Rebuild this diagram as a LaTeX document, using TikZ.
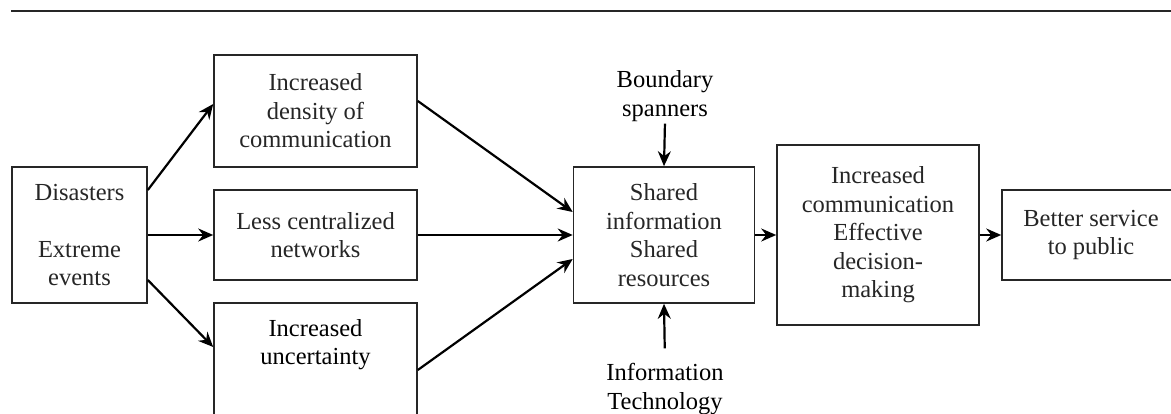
\documentclass[tikz,border=0pt]{standalone}
\usepackage{fontspec}
\setmainfont{Liberation Serif}
\usetikzlibrary{arrows.meta}
\begin{document}
\begin{tikzpicture}[x=1pt,y=-1pt,
  every node/.style={font=\fontsize{24.5}{28.5}\selectfont, inner sep=0pt, align=center},
  box/.style={draw, line width=1.6pt, color=black!85},
  arr/.style={line width=2.2pt, -{Stealth[length=15pt,width=13pt,inset=5pt]}}]
\useasboundingbox (0,0) rectangle (1171,414);
\clip (0,0) rectangle (1171,414);
\coordinate (tl) at (11,11);
\coordinate (tr) at (1171,11);
\draw[line width=2.4pt, black!85] (tl) -- (tr);

\node[box, minimum width=135pt, minimum height=136pt] (dis) at (79.5,235) {Disasters\\\mbox{}\\Extreme\\events};
\node[box, minimum width=203pt, minimum height=112pt] (den) at (315.5,111) {Increased\\density of\\communication};
\node[box, minimum width=203pt, minimum height=90pt] (les) at (315.5,235) {Less centralized\\networks};
\node[box, minimum width=203pt, minimum height=140pt] (unc) at (315.5,373) {};
\node[anchor=north] (unct) at ([yshift=-17pt]unc.north) {Increased\\uncertainty};
\node[box, minimum width=181pt, minimum height=136pt] (sha) at (664,235) {Shared\\information\\Shared\\resources};
\node[box, minimum width=202pt, minimum height=180pt] (ic) at (878,235) {Increased\\communication\\Effective\\decision-\\making};
\node[box, minimum width=178pt, minimum height=90pt] (bet) at (1091,235) {Better service\\to public};
\node (bnd) at (665,96) {Boundary\\spanners};
\node (it) at (665,389) {Information\\Technology};

\draw[arr] ([yshift=45pt]dis.east) -- ([yshift=7pt]den.west);
\draw[arr] (dis.east) -- (les.west);
\draw[arr] ([yshift=-45pt]dis.east) -- ([yshift=26pt]unc.west);
\draw[arr] ([yshift=10pt]den.east) -- ([yshift=23pt]sha.west);
\draw[arr] (les.east) -- (sha.west);
\draw[arr] ([yshift=3pt]unc.east) -- ([yshift=-24pt]sha.west);
\draw[arr] (sha.east) -- (ic.west);
\draw[arr] (ic.east) -- (bet.west);
\draw[arr, shorten <=2pt] (bnd.south) -- (sha.north);
\draw[arr, shorten <=15pt] (it.north) -- (sha.south);
\end{tikzpicture}
\end{document}
